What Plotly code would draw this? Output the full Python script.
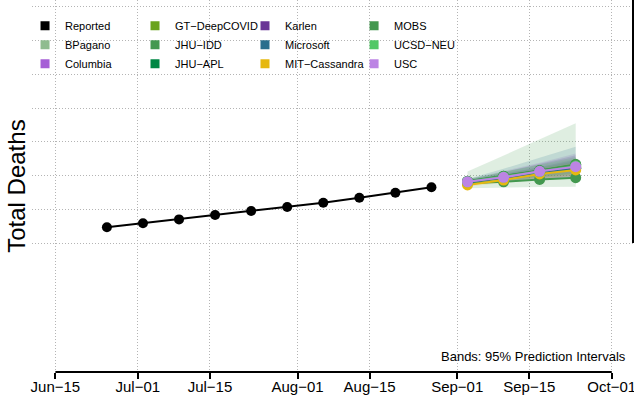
import plotly.graph_objs as go

# reported weekly cumulative deaths
obs_dates = ['2020-06-25', '2020-07-02', '2020-07-09', '2020-07-16', '2020-07-23',
             '2020-07-30', '2020-08-06', '2020-08-13', '2020-08-20', '2020-08-27']
obs_deaths = [8930, 9170, 9400, 9660, 9900, 10130, 10390, 10680, 10980, 11300]

# forecast targets
fc_dates = ['2020-09-03', '2020-09-10', '2020-09-17', '2020-09-24']

models = ['BPagano', 'Columbia', 'GT−DeepCOVID', 'JHU−IDD', 'JHU−APL', 'Karlen',
          'Microsoft', 'MIT−Cassandra', 'MOBS', 'UCSD−NEU', 'USC']

colors = {'Reported': '#000000', 'BPagano': '#8fbc8f', 'Columbia': '#a65fd6',
          'GT−DeepCOVID': '#6aa31e', 'JHU−IDD': '#43984f', 'JHU−APL': '#008744',
          'Karlen': '#6a3596', 'Microsoft': '#2a6f8d', 'MIT−Cassandra': '#e6b80f',
          'MOBS': '#43984f', 'UCSD−NEU': '#52c866', 'USC': '#bc84e4'}

median = {'BPagano': [11600, 11880, 12180, 12480],
          'Columbia': [11620, 11900, 12220, 12500],
          'GT−DeepCOVID': [11580, 11850, 12150, 12430],
          'JHU−IDD': [11540, 11630, 11770, 11870],
          'JHU−APL': [11650, 11950, 12280, 12620],
          'Karlen': [11610, 11870, 12160, 12450],
          'Microsoft': [11600, 11860, 12150, 12420],
          'MIT−Cassandra': [11440, 11730, 12090, 12330],
          'MOBS': [11660, 11960, 12300, 12660],
          'UCSD−NEU': [11630, 11910, 12230, 12560],
          'USC': [11630, 11890, 12250, 12520]}

lower95 = {'BPagano': [11500, 11700, 11900, 12100],
           'Columbia': [11480, 11620, 11780, 11920],
           'GT−DeepCOVID': [11450, 11650, 11850, 12000],
           'JHU−IDD': [11250, 11300, 11320, 11340],
           'JHU−APL': [11550, 11800, 12050, 12300],
           'Karlen': [11500, 11650, 11800, 11900],
           'Microsoft': [11450, 11600, 11750, 11850],
           'MIT−Cassandra': [11350, 11550, 11800, 11950],
           'MOBS': [11550, 11750, 11950, 12150],
           'UCSD−NEU': [11500, 11700, 11900, 12100],
           'USC': [11500, 11700, 11950, 12150]}

upper95 = {'BPagano': [11700, 12100, 12500, 12900],
           'Columbia': [11780, 12250, 12750, 13300],
           'GT−DeepCOVID': [11700, 12050, 12450, 12850],
           'JHU−IDD': [12230, 13180, 14130, 15090],
           'JHU−APL': [11750, 12100, 12500, 12950],
           'Karlen': [11750, 12200, 12700, 13200],
           'Microsoft': [11800, 12400, 13050, 13700],
           'MIT−Cassandra': [11550, 11950, 12400, 12750],
           'MOBS': [11780, 12200, 12650, 13100],
           'UCSD−NEU': [11800, 12200, 12600, 13000],
           'USC': [11750, 12100, 12550, 12950]}

legend_cols = [['Reported', 'BPagano', 'Columbia'],
               ['GT−DeepCOVID', 'JHU−IDD', 'JHU−APL'],
               ['Karlen', 'Microsoft', 'MIT−Cassandra'],
               ['MOBS', 'UCSD−NEU', 'USC']]

x_ticks = ['2020-06-15', '2020-07-01', '2020-07-15', '2020-08-01',
           '2020-08-15', '2020-09-01', '2020-09-15', '2020-10-01']
x_labels = ['Jun−15', 'Jul−01', 'Jul−15', 'Aug−01', 'Aug−15', 'Sep−01', 'Sep−15', 'Oct−01']
x_range = ['2020-06-10 11:00', '2020-10-05 03:00']

y_ticks = [8000, 10000, 12000, 14000, 16000, 18000, 20000, 22000]
y_range = [356, 22400]

FONT = 'Liberation Sans, Arial, sans-serif'


def rgba(hexcol, a):
    h = hexcol.lstrip('#')
    return 'rgba(%d,%d,%d,%s)' % (int(h[0:2], 16), int(h[2:4], 16), int(h[4:6], 16), a)


fig = go.Figure()

# prediction bands
for m in models:
    fig.add_trace(go.Scatter(x=fc_dates, y=lower95[m], mode='lines', line=dict(width=0),
                             showlegend=False, hoverinfo='skip'))
    fig.add_trace(go.Scatter(x=fc_dates, y=upper95[m], mode='lines', line=dict(width=0),
                             fill='tonexty', fillcolor=rgba(colors[m], 0.17),
                             showlegend=False, hoverinfo='skip'))

# medians
for m in models:
    fig.add_trace(go.Scatter(x=fc_dates, y=median[m], mode='lines+markers', name=m,
                             line=dict(color=colors[m], width=2),
                             marker=dict(color=colors[m], size=11),
                             showlegend=False))

fig.add_trace(go.Scatter(x=obs_dates, y=obs_deaths, mode='lines+markers', name='Reported',
                         line=dict(color='black', width=2),
                         marker=dict(color='black', size=10), showlegend=False))

# legend entries, one legend per column
legend_ids = ['legend', 'legend2', 'legend3', 'legend4']
for lid, col in zip(legend_ids, legend_cols):
    for name in col:
        fig.add_trace(go.Scatter(x=[None], y=[None], mode='markers', name=name,
                                 marker=dict(color=colors[name], symbol='square', size=9),
                                 legend=lid))

leg_x = [-0.0116, 0.1714, 0.3544, 0.5359]
leg_common = dict(y=0.97, yanchor='top', xanchor='left', orientation='v',
                  traceorder='normal', bgcolor='rgba(0,0,0,0)',
                  font=dict(family=FONT, size=11, color='black'),
                  itemwidth=30, tracegroupgap=0)

fig.update_layout(
    width=634, height=406,
    margin=dict(l=32, r=1, t=0, b=34, autoexpand=False),
    plot_bgcolor='white', paper_bgcolor='white',
    font=dict(family=FONT, color='black'),
    legend=dict(x=leg_x[0], **leg_common),
    legend2=dict(x=leg_x[1], **leg_common),
    legend3=dict(x=leg_x[2], **leg_common),
    legend4=dict(x=leg_x[3], **leg_common),
    xaxis=dict(range=x_range, tickmode='array', tickvals=x_ticks, ticktext=x_labels,
               showgrid=True, gridcolor='#b4b4b4', gridwidth=1, griddash='1px,2px',
               showline=False, zeroline=False, ticks='outside', ticklen=6, tickwidth=2,
               tickcolor='black', ticklabelstandoff=-5, ticklabeloverflow='allow',
               tickfont=dict(family=FONT, size=15, color='black')),
    yaxis=dict(range=y_range, tickmode='array', tickvals=y_ticks, showticklabels=False,
               showgrid=True, gridcolor='#b4b4b4', gridwidth=1, griddash='1px,2px',
               showline=False, zeroline=False, ticks=''),
    shapes=[
        dict(type='line', xref='x', yref='paper', x0=x_ticks[0], x1=x_ticks[-1], y0=0, y1=0,
             line=dict(color='black', width=2)),
        dict(type='line', xref='paper', yref='y', x0=1, x1=1, y0=y_ticks[0], y1=y_range[1],
             line=dict(color='black', width=2)),
    ],
    annotations=[
        dict(text='Total Deaths', xref='paper', yref='paper', x=-0.027, y=0.5,
             textangle=-90, showarrow=False, xanchor='center', yanchor='middle',
             font=dict(family=FONT, size=24, color='black')),
        dict(text='Bands: 95% Prediction Intervals', xref='paper', yref='paper',
             x=0.992, y=0.043, showarrow=False, xanchor='right', yanchor='middle',
             font=dict(family=FONT, size=13, color='black')),
    ],
)

fig.write_html("out.html", config={'displayModeBar': False},
               post_script="document.body.style.margin='0';")
